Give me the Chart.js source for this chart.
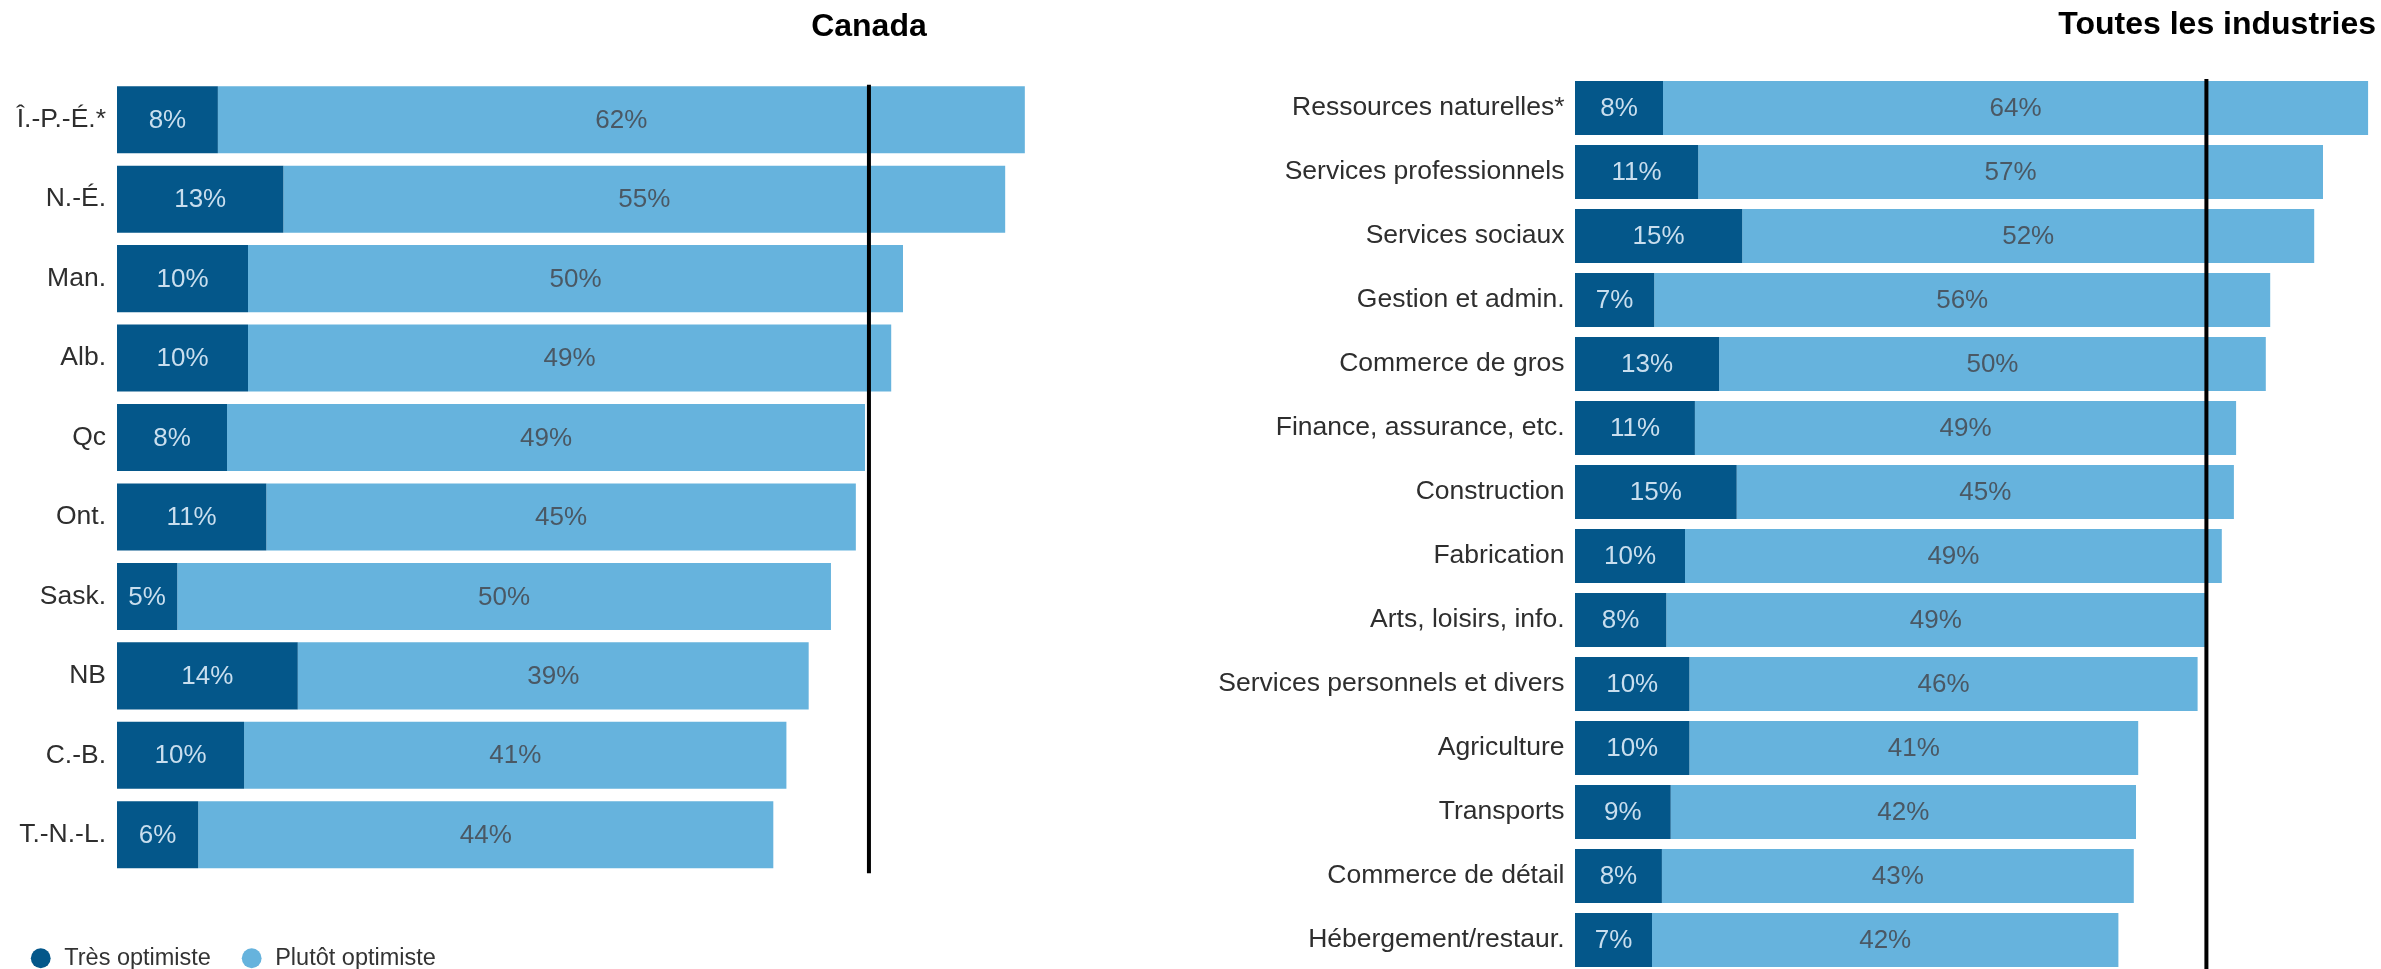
<!DOCTYPE html>
<html lang="fr">
<head>
<meta charset="utf-8">
<title>Optimisme</title>
<script src="https://cdn.jsdelivr.net/npm/chart.js@4.4.1/dist/chart.umd.min.js"></script>
<style>
  html, body { margin: 0; padding: 0; background: #ffffff; overflow: hidden; }
  #wrap { position: relative; width: 2381px; height: 969px; overflow: hidden; background: #fff; }
  #left { position: absolute; left: 0; top: 0; }
  #right { position: absolute; left: 1190px; top: 0; }
</style>
</head>
<body>
<div id="wrap">
  <canvas id="left" width="1190" height="980" style="width:1190px;height:980px"></canvas>
  <canvas id="right" width="1191" height="980" style="width:1191px;height:980px"></canvas>
</div>
<script>
// ---------- DATA ----------
const seriesNames = ['Très optimiste', 'Plutôt optimiste'];

const provinces = ['Î.-P.-É.*', 'N.-É.', 'Man.', 'Alb.', 'Qc', 'Ont.', 'Sask.', 'NB', 'C.-B.', 'T.-N.-L.'];
const provincesTres   = [7.7, 12.7, 10.0, 10.0, 8.4, 11.4, 4.6, 13.8, 9.7, 6.2];
const provincesPlutot = [61.6, 55.1, 50.0, 49.1, 48.7, 45.0, 49.9, 39.0, 41.4, 43.9];
const canadaAverage = 57.4;

const industries = ['Ressources naturelles*', 'Services professionnels', 'Services sociaux', 'Gestion et admin.',
  'Commerce de gros', 'Finance, assurance, etc.', 'Construction', 'Fabrication', 'Arts, loisirs, info.',
  'Services personnels et divers', 'Agriculture', 'Transports', 'Commerce de détail', 'Hébergement/restaur.'];
const industriesTres   = [8.0, 11.2, 15.2, 7.2, 13.1, 10.9, 14.7, 10.0, 8.3, 10.4, 10.4, 8.7, 7.9, 7.0];
const industriesPlutot = [64.1, 56.8, 52.0, 56.0, 49.7, 49.2, 45.2, 48.8, 49.0, 46.2, 40.8, 42.3, 42.9, 42.4];
const allIndustriesAverage = 57.4;

const titleLeft = 'Canada';
const titleRight = 'Toutes les industries';

// ---------- STYLE ----------
const DARK = '#04578a';
const LIGHT = '#66b3dd';
const DARK_TEXT = '#c9deee';
const LIGHT_TEXT = '#4a5864';
const FONT = '"Liberation Sans", Arial, Helvetica, sans-serif';

const overlayPlugin = {
  id: 'overlay',
  afterDatasetsDraw(chart, args, opts) {
    const ctx = chart.ctx;
    // value labels
    chart.data.datasets.forEach((ds, di) => {
      const meta = chart.getDatasetMeta(di);
      meta.data.forEach((bar, i) => {
        const v = ds.data[i];
        const cx = (bar.x + bar.base) / 2;
        ctx.save();
        ctx.font = '26px ' + FONT;
        ctx.fillStyle = ds.valueColor;
        ctx.textAlign = 'center';
        ctx.textBaseline = 'middle';
        ctx.fillText(Math.round(v) + '%', cx, bar.y + 1);
        ctx.restore();
      });
    });
    // reference (average) line
    const meta0 = chart.getDatasetMeta(0).data;
    const first = meta0[0], last = meta0[meta0.length - 1];
    const lx = chart.scales.x.getPixelForValue(opts.lineValue);
    const top = first.y - first.height / 2 - opts.lineTopExtra;
    const bottom = last.y + last.height / 2 + opts.lineBottomExtra;
    ctx.save();
    ctx.strokeStyle = '#000000';
    ctx.lineWidth = 4;
    ctx.beginPath();
    ctx.moveTo(lx, top);
    ctx.lineTo(lx, bottom);
    ctx.stroke();
    // panel title
    ctx.font = 'bold 32px ' + FONT;
    ctx.fillStyle = '#000000';
    ctx.textBaseline = 'middle';
    if (opts.titleAlign === 'line') {
      ctx.textAlign = 'center';
      ctx.fillText(opts.title, lx, opts.titleY);
    } else {
      ctx.textAlign = 'right';
      ctx.fillText(opts.title, chart.width - opts.titleRightPad, opts.titleY);
    }
    ctx.restore();
  }
};

function makeChart(canvasId, labels, tres, plutot, cfg) {
  return new Chart(document.getElementById(canvasId), {
    type: 'bar',
    data: {
      labels: labels,
      datasets: [
        { label: seriesNames[0], data: tres, backgroundColor: DARK, valueColor: DARK_TEXT },
        { label: seriesNames[1], data: plutot, backgroundColor: LIGHT, valueColor: LIGHT_TEXT }
      ]
    },
    options: {
      indexAxis: 'y',
      responsive: false,
      animation: false,
      devicePixelRatio: 1,
      layout: { padding: cfg.padding },
      datasets: { bar: { barPercentage: 0.844, categoryPercentage: 1, borderWidth: 0 } },
      scales: {
        x: {
          stacked: true, min: 0, max: cfg.xMax,
          display: cfg.xAxisHeight > 0,
          ticks: { display: false },
          grid: { display: false, drawTicks: false },
          border: { display: false },
          afterFit: s => { s.height = cfg.xAxisHeight; s.paddingLeft = 0; s.paddingRight = 0; }
        },
        y: {
          stacked: true,
          ticks: { padding: cfg.labelPad, color: '#2e2e2e', autoSkip: false, font: { family: FONT, size: 26.5 } },
          grid: { display: false, drawTicks: false },
          border: { display: false },
          afterFit: s => { s.width = cfg.yWidth; s.paddingTop = 0; s.paddingBottom = 0; }
        }
      },
      plugins: {
        legend: cfg.legend ? {
          display: true,
          position: 'bottom',
          align: 'start',
          labels: {
            usePointStyle: true,
            pointStyle: 'circle',
            boxWidth: 24,
            boxHeight: 14,
            padding: 29,
            color: '#333333',
            font: { family: FONT, size: 23.5 }
          }
        } : { display: false },
        tooltip: { enabled: false },
        overlay: cfg.overlay
      }
    },
    plugins: [overlayPlugin]
  });
}

makeChart('left', provinces, provincesTres, provincesPlutot, {
  padding: { top: 80, right: 25, left: 0, bottom: 0 },
  xMax: 80, xAxisHeight: 43, yWidth: 117, labelPad: 11, legend: true,
  overlay: { lineValue: canadaAverage, lineTopExtra: 1.5, lineBottomExtra: 5,
             title: titleLeft, titleAlign: 'line', titleY: 27, titleRightPad: 0 }
});

makeChart('right', industries, industriesTres, industriesPlutot, {
  padding: { top: 76, right: 3, left: 0, bottom: 8 },
  xMax: 73, xAxisHeight: 0, yWidth: 385, labelPad: 10.5, legend: false,
  overlay: { lineValue: allIndustriesAverage, lineTopExtra: 2, lineBottomExtra: 5,
             title: titleRight, titleAlign: 'right', titleY: 25, titleRightPad: 5 }
});
</script>
</body>
</html>
